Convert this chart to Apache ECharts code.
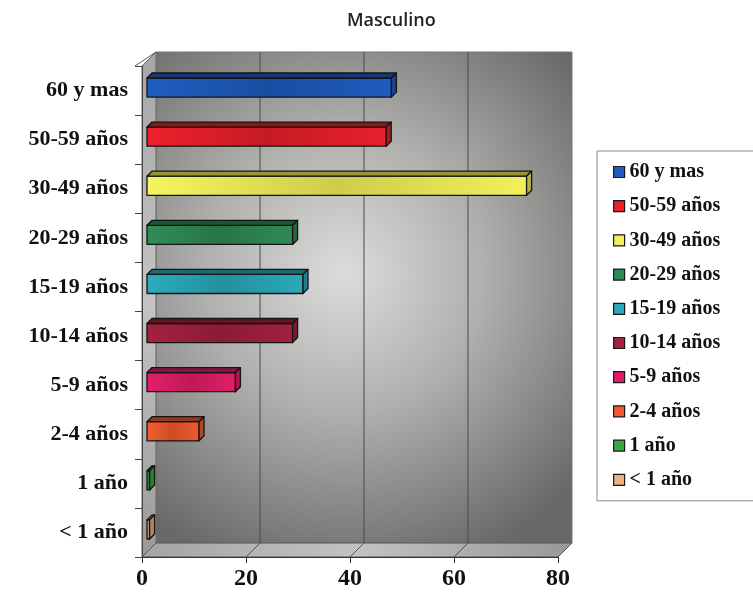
<!DOCTYPE html>
<html>
<head>
<meta charset="utf-8">
<script src="https://cdn.jsdelivr.net/npm/echarts@6/dist/echarts.min.js"></script>
<style>
  html, body { margin: 0; padding: 0; background: #ffffff; }
  #chart { width: 753px; height: 594px; }
</style>
</head>
<body>
<div id="chart"></div>
<script>
// Age groups, top to bottom
const categories = ['60 y mas', '50-59 años', '30-49 años', '20-29 años', '15-19 años',
                    '10-14 años', '5-9 años', '2-4 años', '1 año', '< 1 año'];
// Values per age group
const values = [47, 46, 73, 28, 30, 28, 17, 10, 0.5, 0.5];
// Fill colour per age group
const barColors = ['#1f5cbe', '#e8202c', '#f2f05a', '#2f8a52', '#2aa9bb',
                   '#a3203f', '#e21d68', '#f05a2e', '#3aa544', '#eab182'];
// Value-axis ticks
const xTicks = [0, 20, 40, 60, 80];

// Depth of the 3D box (walls) and of each bar
const WALL_DX = 14, WALL_DY = -14;
const BAR_D = 5, BAR_SHIFT_X = 5, BAR_SHIFT_Y = -3;

function shade(hex, f) {
  const n = parseInt(hex.slice(1), 16);
  const r = Math.min(255, Math.round(((n >> 16) & 255) * f));
  const g = Math.min(255, Math.round(((n >> 8) & 255) * f));
  const b = Math.min(255, Math.round((n & 255) * f));
  return 'rgb(' + r + ',' + g + ',' + b + ')';
}

const labelFont = 'Liberation Serif, Times New Roman, serif';

// Back wall, side wall, floor and grid lines of the 3D box
function renderBox(params, api) {
  const cs = params.coordSys;
  const L = cs.x, T = cs.y, R = cs.x + cs.width, B = cs.y + cs.height;
  const dx = WALL_DX, dy = WALL_DY;
  const children = [];
  children.push({
    type: 'rect',
    shape: { x: L + dx, y: T + dy, width: cs.width, height: cs.height },
    style: {
      fill: new echarts.graphic.RadialGradient(0.45, 0.45, 0.75, [
        { offset: 0, color: '#dcdcda' },
        { offset: 0.45, color: '#afafad' },
        { offset: 1, color: '#686866' }
      ]),
      stroke: '#777', lineWidth: 1
    }
  });
  children.push({
    type: 'polygon',
    shape: { points: [[L, T], [L + dx, T + dy], [L + dx, B + dy], [L, B]] },
    style: {
      fill: new echarts.graphic.LinearGradient(0, 0, 0, 1, [
        { offset: 0, color: '#a6a6a6' },
        { offset: 0.5, color: '#c4c4c4' },
        { offset: 1, color: '#9a9a9a' }
      ]),
      stroke: '#666', lineWidth: 1
    }
  });
  children.push({
    type: 'polygon',
    shape: { points: [[L, B], [L + dx, B + dy], [R + dx, B + dy], [R, B]] },
    style: {
      fill: new echarts.graphic.LinearGradient(0, 0, 1, 0, [
        { offset: 0, color: '#a4a4a4' },
        { offset: 0.5, color: '#c2c2c0' },
        { offset: 1, color: '#989896' }
      ]),
      stroke: '#555', lineWidth: 1
    }
  });
  xTicks.forEach(function (v) {
    const x = api.coord([v, 0])[0];
    if (v > 0 && v < xTicks[xTicks.length - 1]) {
      children.push({
        type: 'line',
        shape: { x1: x + dx, y1: T + dy, x2: x + dx, y2: B + dy },
        style: { stroke: '#4a4a4a', lineWidth: 1 }
      });
    }
    if (v > 0) {
      children.push({
        type: 'line',
        shape: { x1: x, y1: B, x2: x + dx, y2: B + dy },
        style: { stroke: '#555', lineWidth: 1 }
      });
    }
  });
  children.push({
    type: 'line',
    shape: { x1: L - 7, y1: T, x2: L + dx, y2: T + dy },
    style: { stroke: '#555', lineWidth: 1 }
  });
  return { type: 'group', children: children };
}

// One 3D bar: front face, top face, right side
function makeBarRenderer(color) {
  return function (params, api) {
    const v = api.value(0);
    const idx = api.value(1);
    const p0 = api.coord([0, idx]);
    const p1 = api.coord([v, idx]);
    const band = api.size([0, 1])[1];
    const h = band * 0.39;
    const x0 = p0[0] + BAR_SHIFT_X, x1 = p1[0] + BAR_SHIFT_X;
    const yc = p0[1] + BAR_SHIFT_Y;
    const yT = yc - h / 2, yB = yc + h / 2;
    const d = BAR_D;
    const edge = { stroke: '#141414', lineWidth: 1.3, lineJoin: 'round' };
    return {
      type: 'group',
      children: [
        {
          type: 'rect',
          shape: { x: x0, y: yT, width: x1 - x0, height: h },
          style: Object.assign({
            fill: new echarts.graphic.LinearGradient(0, 0, 1, 0, [
              { offset: 0, color: shade(color, 1.02) },
              { offset: 0.5, color: shade(color, 0.85) },
              { offset: 1, color: shade(color, 1.0) }
            ])
          }, edge)
        },
        {
          type: 'polygon',
          shape: { points: [[x0, yT], [x0 + d, yT - d], [x1 + d, yT - d], [x1, yT]] },
          style: Object.assign({ fill: shade(color, 0.62) }, edge)
        },
        {
          type: 'polygon',
          shape: { points: [[x1, yT], [x1 + d, yT - d], [x1 + d, yB - d], [x1, yB]] },
          style: Object.assign({ fill: shade(color, 0.75) }, edge)
        }
      ]
    };
  };
}

const series = [{
  type: 'custom',
  name: 'box',
  silent: true,
  clip: false,
  z: 0,
  renderItem: renderBox,
  data: [[0, 0]],
  encode: { x: 0, y: 1 }
}];

categories.forEach(function (cat, i) {
  series.push({
    type: 'custom',
    name: cat,
    clip: false,
    z: 2,
    itemStyle: { color: barColors[i] },
    renderItem: makeBarRenderer(barColors[i]),
    data: [[values[i], i]],
    encode: { x: 0, y: 1 }
  });
});

const chart = echarts.init(document.getElementById('chart'), null, { renderer: 'canvas' });
chart.setOption({
  animation: false,
  backgroundColor: '#ffffff',
  title: {
    text: 'Masculino',
    left: 342,
    top: 7,
    textStyle: { fontFamily: 'Open Sans, sans-serif', fontSize: 18, fontWeight: 600, color: '#222' }
  },
  grid: { left: 142, right: 195, top: 66, bottom: 37, containLabel: false },
  xAxis: {
    type: 'value',
    min: 0,
    max: 80,
    interval: 20,
    axisLine: { show: true, lineStyle: { color: '#333', width: 1.2 } },
    axisTick: { show: true, length: 6, lineStyle: { color: '#333' } },
    splitLine: { show: false },
    axisLabel: {
      margin: 10,
      fontFamily: labelFont,
      fontSize: 24,
      fontWeight: 'bold',
      color: '#111'
    }
  },
  yAxis: {
    type: 'category',
    data: categories,
    inverse: true,
    axisLine: { show: true, lineStyle: { color: '#444', width: 1 } },
    axisTick: { show: true, length: 7, lineStyle: { color: '#444' } },
    axisLabel: {
      margin: 14,
      fontFamily: labelFont,
      fontSize: 22,
      fontWeight: 'bold',
      color: '#111'
    }
  },
  legend: {
    data: categories,
    orient: 'vertical',
    left: 597,
    top: 151,
    padding: [11, 40, 11, 16],
    itemGap: 14.2,
    itemWidth: 11,
    itemHeight: 11,
    icon: 'rect',
    borderColor: '#8a8a8a',
    borderWidth: 1,
    itemStyle: { borderColor: '#1a1a1a', borderWidth: 1.2 },
    textStyle: {
      fontFamily: labelFont,
      fontSize: 20,
      fontWeight: 'bold',
      color: '#111',
      lineHeight: 20
    }
  },
  series: series
});
</script>
</body>
</html>
